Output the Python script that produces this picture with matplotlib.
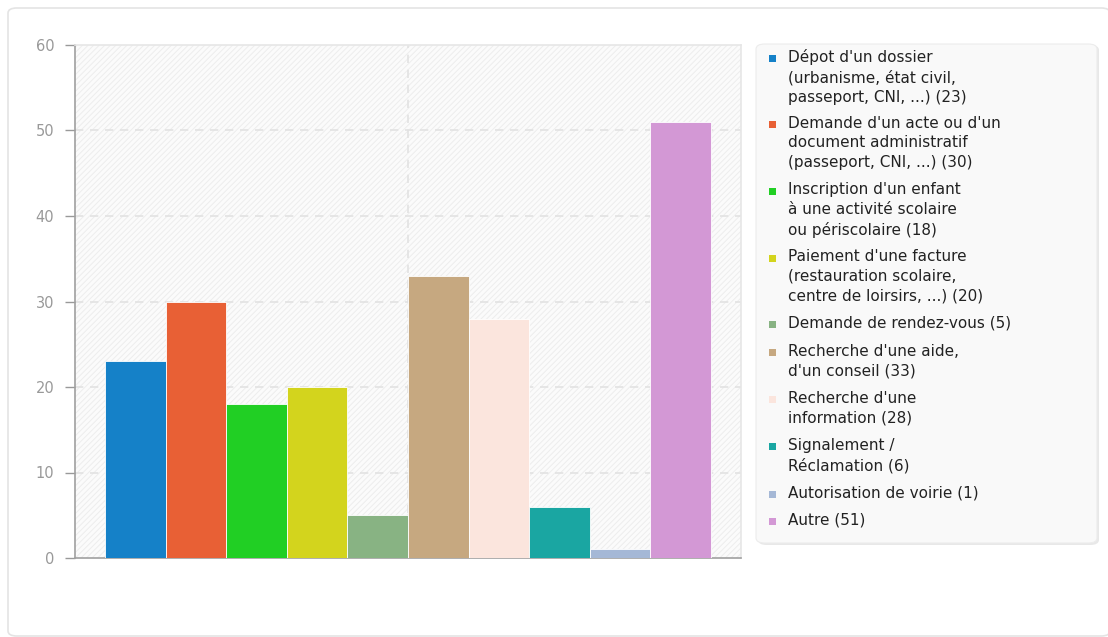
import matplotlib
matplotlib.use("Agg")
import matplotlib.pyplot as plt
from matplotlib.patches import FancyBboxPatch, Rectangle

# data
labels = [
    "Dépot d'un dossier\n(urbanisme, état civil,\npasseport, CNI, ...) (23)",
    "Demande d'un acte ou d'un\ndocument administratif\n(passeport, CNI, ...) (30)",
    "Inscription d'un enfant\nà une activité scolaire\nou périscolaire (18)",
    "Paiement d'une facture\n(restauration scolaire,\ncentre de loirsirs, ...) (20)",
    "Demande de rendez-vous (5)",
    "Recherche d'une aide,\nd'un conseil (33)",
    "Recherche d'une\ninformation (28)",
    "Signalement /\nRéclamation (6)",
    "Autorisation de voirie (1)",
    "Autre (51)",
]
values = [23, 30, 18, 20, 5, 33, 28, 6, 1, 51]
colors = ["#1581c8", "#e86035", "#21cf24", "#d3d41d", "#88b383",
          "#c6a880", "#fbe5dd", "#1aa6a2", "#a5b8d6", "#d398d5"]
yticks = [0, 10, 20, 30, 40, 50, 60]

W, H = 1108, 637
plt.rcParams['font.family'] = ['DejaVu Sans']
plt.rcParams['hatch.linewidth'] = 0.7
fig = plt.figure(figsize=(W / 100, H / 100), dpi=100)


def fx(x):
    return x / W


def fy(y):
    return 1 - y / H


# outer card
card = FancyBboxPatch((fx(8), fy(636)), fx(1110) - fx(8), fy(8) - fy(636),
                      boxstyle="round,pad=0,rounding_size=0.008",
                      transform=fig.transFigure, facecolor="white",
                      edgecolor="#e4e4e4", linewidth=1.2, zorder=-2)
fig.patches.append(card)

# axes
ax = fig.add_axes([fx(75), fy(558), fx(741) - fx(75), fy(45) - fy(558)])
ax.set_zorder(1)
ax.set_facecolor("#fbfbfb")
ax.add_patch(Rectangle((0, 0), 1, 1, transform=ax.transAxes, facecolor="none",
                       edgecolor="#ededed", hatch="//////", linewidth=0, zorder=0))

x = list(range(len(values)))
ax.bar(x, values, width=1.0, color=colors, edgecolor="white", linewidth=0.6, zorder=3)

ax.set_xlim(-1, len(values))
ax.set_ylim(0, 60)
ax.set_yticks(yticks)
ax.set_xticks([])
for yv in yticks[1:-1]:
    ax.axhline(yv, color="#e2e2e2", linestyle=(0, (5, 4)), linewidth=1.2, zorder=1)
ax.axvline((len(values) - 1) / 2, color="#e2e2e2", linestyle=(0, (5, 4)),
           linewidth=1.2, zorder=1)

ax.tick_params(axis="y", colors="#999999", labelcolor="#999999", labelsize=10.5,
               length=7, width=1, pad=8, direction="out")
for s in ["left", "bottom"]:
    ax.spines[s].set_color("#a0a0a0")
    ax.spines[s].set_linewidth(1.2)
for s in ["top", "right"]:
    ax.spines[s].set_color("#e6e6e6")
    ax.spines[s].set_linewidth(1.2)

# legend box
shadow = FancyBboxPatch((fx(758), fy(545)), fx(1099) - fx(758), fy(45) - fy(545),
                        boxstyle="round,pad=0,rounding_size=0.008",
                        transform=fig.transFigure, facecolor="#e8e8e8",
                        edgecolor="none", zorder=2)
fig.patches.append(shadow)
lbox = FancyBboxPatch((fx(756), fy(543)), fx(1097) - fx(756), fy(44) - fy(543),
                      boxstyle="round,pad=0,rounding_size=0.008",
                      transform=fig.transFigure, facecolor="#f9f9f9",
                      edgecolor="#ececec", linewidth=0.8, zorder=3)
fig.patches.append(lbox)

line_h = 19.5
step = 27.7
y = 58
for lab, c in zip(labels, colors):
    n = lab.count("\n") + 1
    fig.patches.append(Rectangle((fx(769), fy(y + 3.5)), fx(7), fy(0) - fy(7),
                                 transform=fig.transFigure, facecolor=c,
                                 edgecolor="none", zorder=4))
    fig.text(fx(788), fy(y - 9), lab, ha="left", va="top", fontsize=11,
             color="#222222", linespacing=1.38, zorder=5)
    y += (n - 1) * line_h + step

fig.savefig("out.png", dpi=100)
